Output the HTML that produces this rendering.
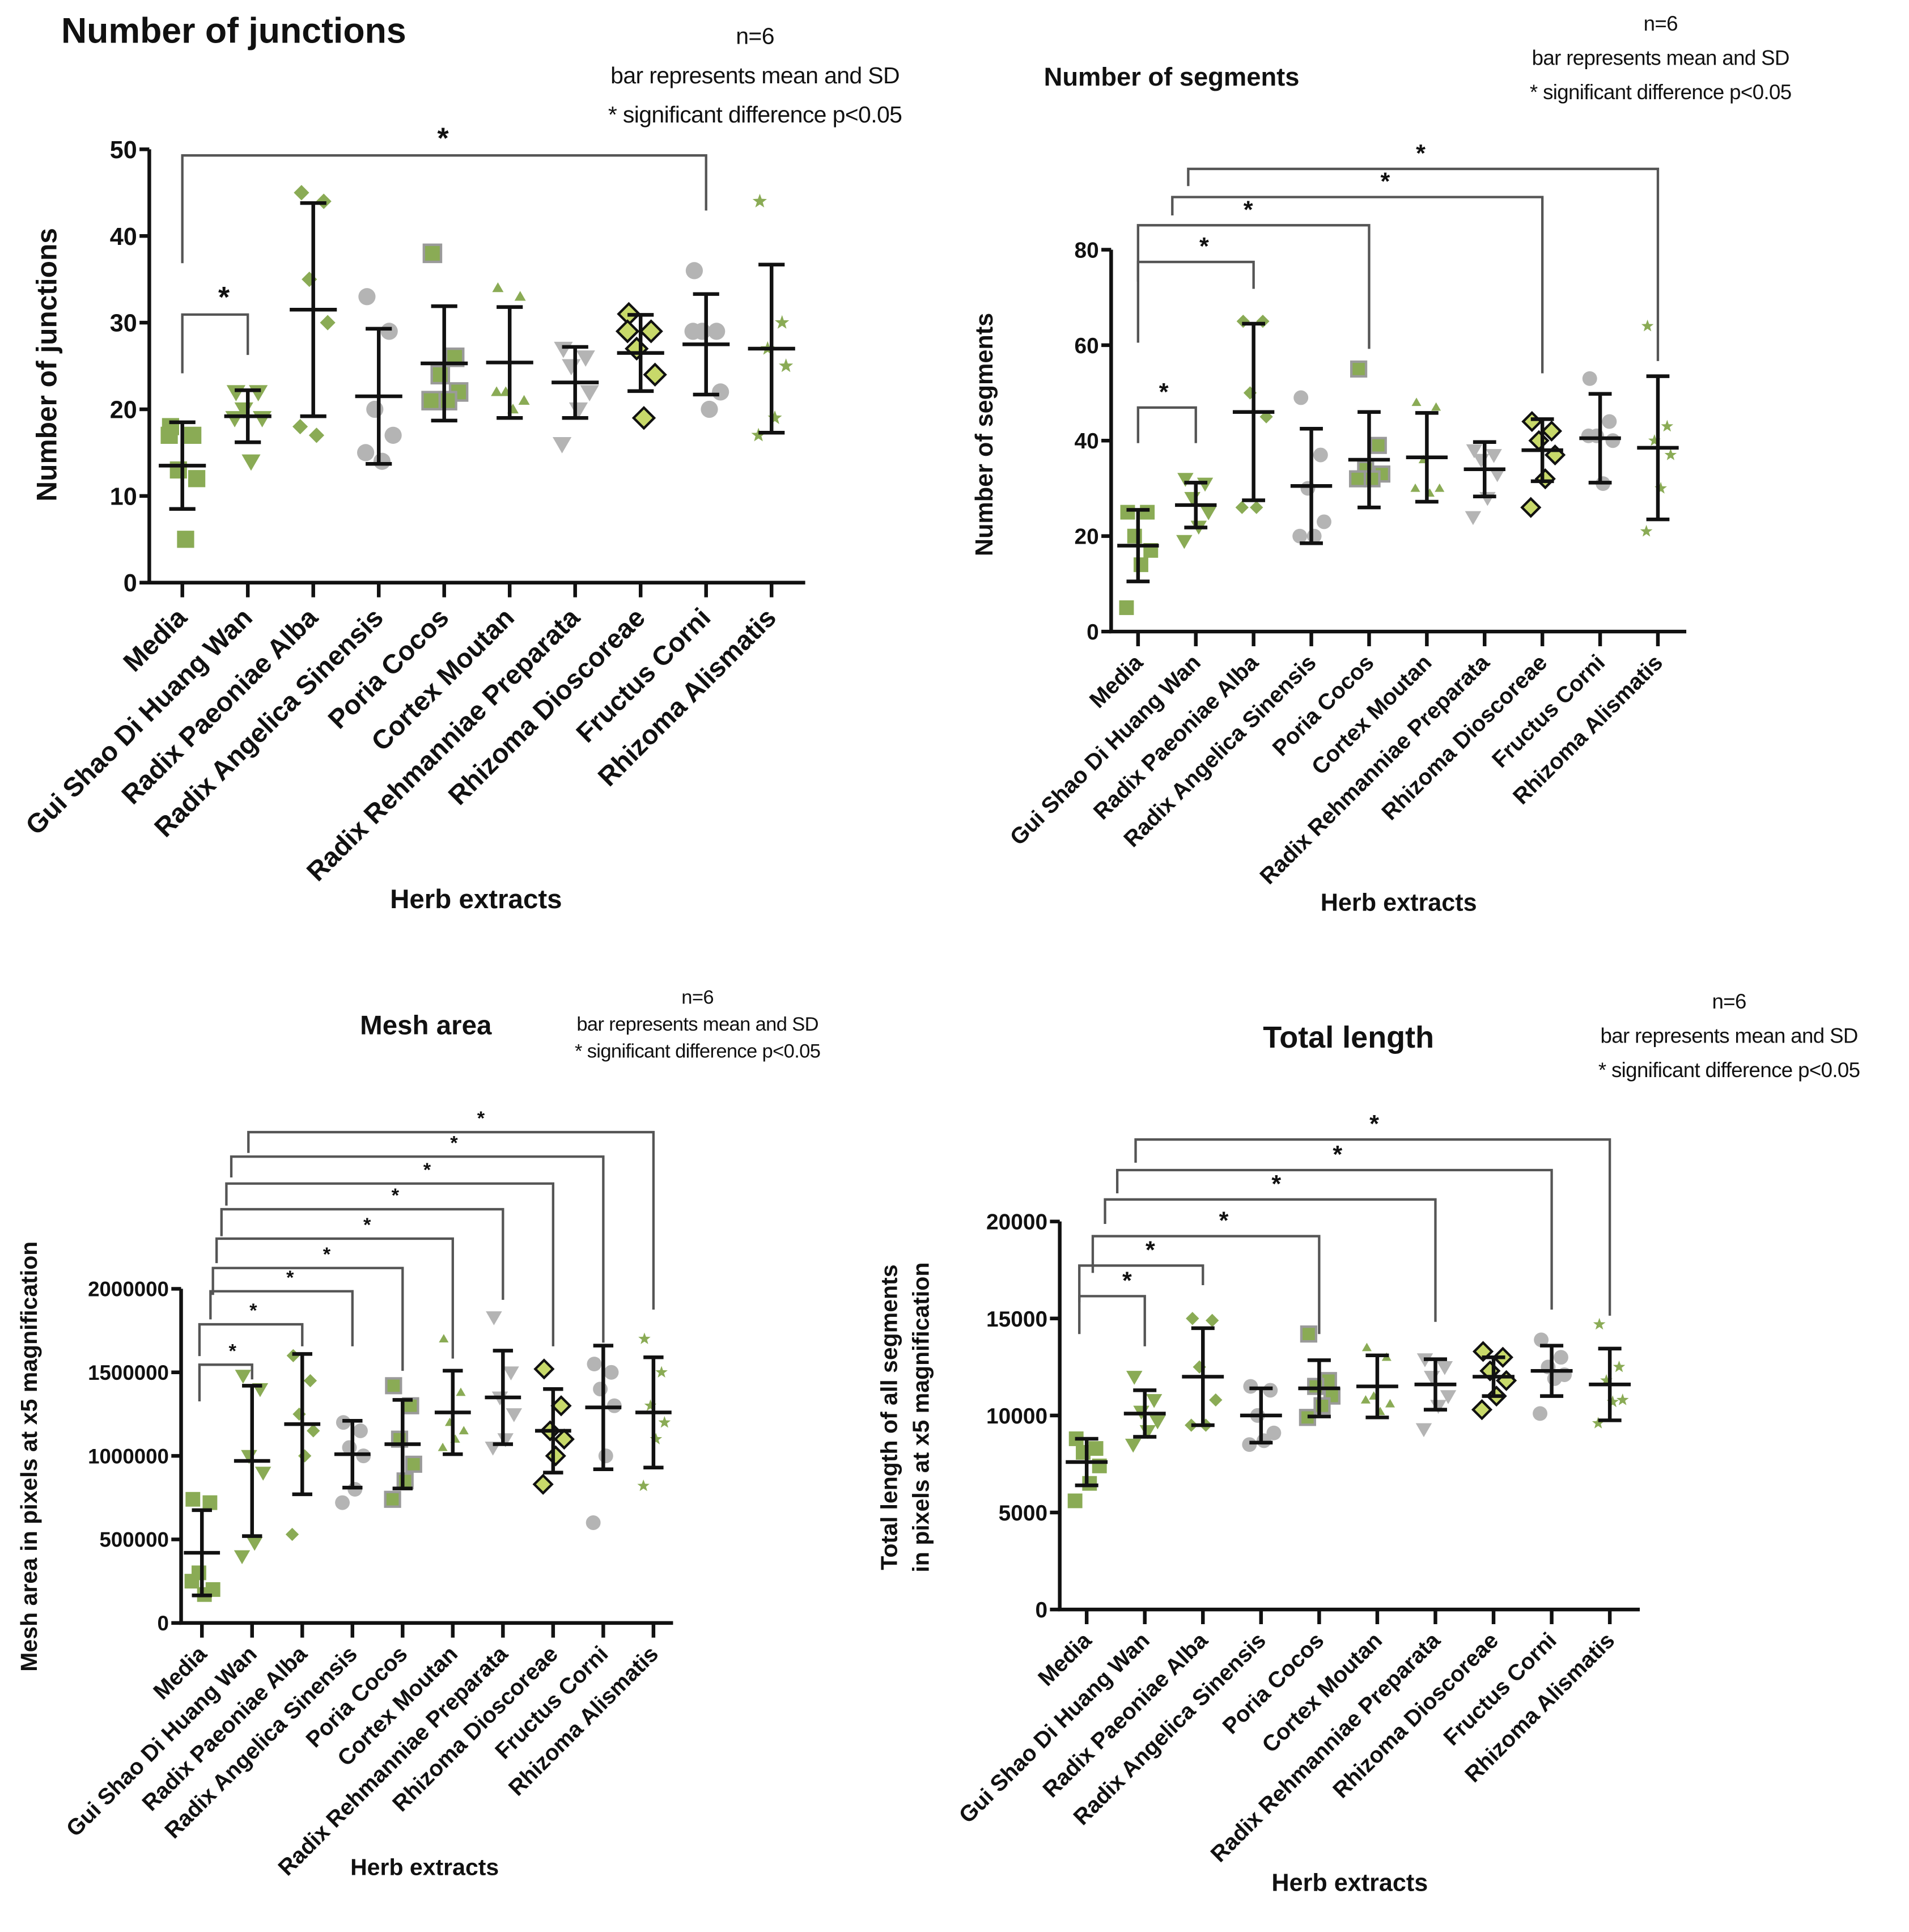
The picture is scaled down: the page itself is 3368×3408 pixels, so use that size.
<!DOCTYPE html>
<html><head><meta charset="utf-8">
<style>
html,body{margin:0;padding:0;background:#fff;}
svg{display:block;}
text{font-family:"Liberation Sans","DejaVu Sans",sans-serif;fill:#111;}
</style></head>
<body>
<svg id="fig" xmlns="http://www.w3.org/2000/svg" width="3368" height="3408" viewBox="0 0 1560 1578.5">
<rect x="0" y="0" width="1560" height="1578.5" fill="#fff"/>
</svg>
<script>
const categories=["Media","Gui Shao Di Huang Wan","Radix Paeoniae Alba","Radix Angelica Sinensis","Poria Cocos","Cortex Moutan","Radix Rehmanniae Preparata","Rhizoma Dioscoreae","Fructus Corni","Rhizoma Alismatis"];

// Panel 1: Number of junctions
const junctionsPoints=[[18,17,13,12,5,17],[22,22,20,19,14,19],[45,44,35,30,17,18],[33,29,20,17,14,15],[38,26,24,22,21,21],[34,33,22,21,20,22],[27,26,25,22,20,16],[31,29,27,24,19,29],[36,29,29,22,20,29],[44,30,27,25,19,17]];
const junctionsMean=[13.5,19.2,31.5,21.5,25.3,25.4,23.1,26.5,27.5,27];
const junctionsSD=[5,3,12.3,7.8,6.6,6.4,4.1,4.4,5.8,9.7];
const junctionsTicks=[0,10,20,30,40,50];

// Panel 2: Number of segments
const segmentsPoints=[[25,25,20,17,14,5],[32,31,28,25,22,19],[65,65,50,45,26,26],[49,37,30,23,20,20],[55,39,34,33,32,32],[48,47,36,30,29,30],[38,37,36,33,28,24],[44,42,40,37,32,26],[53,44,41,40,31,41],[64,43,40,37,30,21]];
const segmentsMean=[18,26.5,46,30.5,36,36.5,34,38,40.5,38.5];
const segmentsSD=[7.5,4.7,18.5,12,10,9.3,5.7,6.5,9.3,15];
const segmentsTicks=[0,20,40,60,80];

// Panel 3: Mesh area
const meshPoints=[[740000,720000,300000,200000,170000,250000],[1480000,1400000,1000000,900000,480000,400000],[1600000,1450000,1250000,1150000,1000000,530000],[1200000,1150000,1050000,1000000,800000,720000],[1420000,1300000,1100000,950000,850000,740000],[1700000,1380000,1200000,1150000,1100000,1050000],[1830000,1500000,1350000,1250000,1100000,1050000],[1520000,1300000,1150000,1100000,1000000,830000],[1550000,1500000,1400000,1300000,1000000,600000],[1700000,1500000,1300000,1200000,1100000,820000]];
const meshMean=[420000,970000,1190000,1010000,1070000,1260000,1350000,1150000,1290000,1260000];
const meshSD=[255000,450000,420000,200000,265000,250000,280000,250000,370000,330000];
const meshTicks=[0,500000,1000000,1500000,2000000];

// Panel 4: Total length
const lengthPoints=[[8800,8300,8100,7400,6500,5600],[12000,10800,10200,9700,9200,8500],[15000,14900,12500,10800,9500,9500],[11500,11300,10000,9100,8700,8500],[14200,11800,11500,11000,10500,9900],[13500,13000,11000,10600,10200,10800],[12900,12500,12000,11000,10500,9300],[13300,13000,12300,11800,11000,10300],[13900,13000,12500,12100,11900,10100],[14700,12500,11800,10800,10700,9600]];
const lengthMean=[7600,10100,12000,10000,11400,11500,11600,12000,12300,11600];
const lengthSD=[1200,1200,2500,1400,1450,1600,1300,1000,1300,1850];
const lengthTicks=[0,5000,10000,15000,20000];

const NS="http://www.w3.org/2000/svg";
const svg=document.getElementById('fig');
const G="#8aab55", GR="#b4b4b4", YG="#c8d96a";
const markerStyle=[
 {shape:"square",fill:G,stroke:"none"},
 {shape:"tridown",fill:G,stroke:"none"},
 {shape:"diamond",fill:G,stroke:"none",s:0.75},
 {shape:"circle",fill:GR,stroke:"none"},
 {shape:"square",fill:G,stroke:"#9a9a9a"},
 {shape:"triup",fill:G,stroke:"none",s:0.6},
 {shape:"tridown",fill:GR,stroke:"none"},
 {shape:"diamond",fill:YG,stroke:"#111"},
 {shape:"circle",fill:GR,stroke:"none"},
 {shape:"star",fill:G,stroke:"none",s:0.8}
];
const jit=[-0.18,0.16,-0.06,0.22,0.05,-0.2];

function el(tag,attrs,parent){const e=document.createElementNS(NS,tag);for(const k in attrs)e.setAttribute(k,attrs[k]);(parent||svg).appendChild(e);return e;}

function marker(g,cx,cy,ms,r){
  const s=r*(ms.s||1);let e;
  if(ms.shape==="square")e=el('rect',{x:cx-s,y:cy-s,width:2*s,height:2*s},g);
  else if(ms.shape==="circle")e=el('circle',{cx:cx,cy:cy,r:s},g);
  else if(ms.shape==="diamond")e=el('polygon',{points:`${cx},${cy-s*1.2} ${cx+s*1.2},${cy} ${cx},${cy+s*1.2} ${cx-s*1.2},${cy}`},g);
  else if(ms.shape==="tridown")e=el('polygon',{points:`${cx-s*1.1},${cy-s*0.8} ${cx+s*1.1},${cy-s*0.8} ${cx},${cy+s*1.1}`},g);
  else if(ms.shape==="triup")e=el('polygon',{points:`${cx-s*1.1},${cy+s*0.8} ${cx+s*1.1},${cy+s*0.8} ${cx},${cy-s*1.1}`},g);
  else {let p=[];for(let k=0;k<10;k++){const a=-Math.PI/2+k*Math.PI/5;const rr=k%2?s*0.45:s*1.1;p.push((cx+rr*Math.cos(a)).toFixed(1)+","+(cy+rr*Math.sin(a)).toFixed(1));}e=el('polygon',{points:p.join(" ")},g);}
  e.setAttribute('fill',ms.fill);
  if(ms.stroke!=="none"){e.setAttribute('stroke',ms.stroke);e.setAttribute('stroke-width',2);}
  return e;
}

function panel(P){
  const g=el('g',{});
  
  
  const ymax=P.ticks[P.ticks.length-1];
  const Y=v=>P.y0-(v/ymax)*(P.y0-P.y1);
  const X=i=>P.x0+i*P.dx;
  const t=el('text',{x:P.tx,y:P.ty,'font-size':P.tfs,'font-weight':'bold','text-anchor':P.tanchor||'middle'},g);
  t.textContent=P.title;
  
  
  const notes=["n=6","bar represents mean and SD","* significant difference p<0.05"];
  notes.forEach((n,i)=>{const e=el('text',{x:P.nx,y:P.ny+i*P.ndy,'font-size':P.nfs,'text-anchor':'middle',fill:'#333','letter-spacing':'-0.3'},g);e.textContent=n;
    
    });
  const ax=el('path',{d:`M${P.ax},${P.y1} V${P.y0} H${P.xend}`,stroke:'#111','stroke-width':3,fill:'none'},g);
  
  
  P.ticks.forEach(v=>{
    el('line',{x1:P.ax-8,x2:P.ax,y1:Y(v),y2:Y(v),stroke:'#111','stroke-width':3},g);
    const e=el('text',{x:P.ax-10,y:Y(v)+P.lfs*0.36,'font-size':P.lfs,'font-weight':'bold','text-anchor':'end'},g);
    e.textContent=v;
    
    
  });
  categories.forEach((c,i)=>{
    el('line',{x1:X(i),x2:X(i),y1:P.y0,y2:P.y0+12,stroke:'#111','stroke-width':3},g);
    const e=el('text',{x:X(i)+5,y:P.y0+P.cfs+8,'font-size':P.cfs,'font-weight':'bold','text-anchor':'end',transform:`rotate(-45 ${X(i)+5} ${P.y0+P.cfs+8})`},g);
    e.textContent=c;
    
    
  });
  P.ytitle.forEach((line,k)=>{
    const yx=P.ytx+k*P.ytdx;
    const e=el('text',{x:yx,y:P.yty,'font-size':P.ytfs,'font-weight':'bold','text-anchor':'middle',transform:`rotate(-90 ${yx} ${P.yty})`},g);
    e.textContent=line;
    
    
  });
  const xt=el('text',{x:P.xtx,y:P.xty,'font-size':P.xtfs,'font-weight':'bold','text-anchor':'middle'},g);
  xt.textContent="Herb extracts";
  
  
  P.points.forEach((arr,i)=>{
    const gg=el('g',{},g);
    
    
    arr.forEach((v,k)=>{marker(gg,X(i)+jit[k]*P.dx,Y(v),markerStyle[i],P.mr);});
  });
  P.mean.forEach((m,i)=>{
    const x=X(i),hw=P.dx*0.36,cw=P.dx*0.2;
    const d=`M${x-hw},${Y(m)} H${x+hw} M${x},${Y(m-P.sd[i])} V${Y(m+P.sd[i])} M${x-cw},${Y(m-P.sd[i])} H${x+cw} M${x-cw},${Y(m+P.sd[i])} H${x+cw}`;
    const e=el('path',{d:d,stroke:'#111','stroke-width':3,fill:'none'},g);
    
    
  });
  P.brackets.forEach(b=>{
    const rx=X(b.to);
    const e=el('path',{d:`M${b.lx},${b.ly} V${b.y} H${rx} V${b.ry}`,stroke:'#555','stroke-width':2,fill:'none'},g);
    
    
    const s=el('text',{x:b.sx,y:b.y-6,'font-size':P.sfs,'font-weight':'bold','text-anchor':'middle'},g);
    s.textContent="*";
    
    
  });
}

panel({name:'junctions-chart',title:'Number of junctions',tx:50,ty:35,tfs:29,tanchor:'start',nx:617,ny:36,ndy:32,nfs:19,
 ax:122,y0:476,y1:122,xend:658,x0:149,dx:53.5,ticks:junctionsTicks,lfs:20,cfs:22,
 ytitle:['Number of junctions'],ytx:46,yty:298,ytdx:0,ytfs:23,xtx:389,xty:742,xtfs:22,
 points:junctionsPoints,mean:junctionsMean,sd:junctionsSD,mr:7,sfs:24,
 brackets:[{lx:149,ly:215,y:127,to:8,ry:172,sx:362},{lx:149,ly:305,y:257,to:1,ry:290,sx:183}]});

panel({name:'segments-chart',title:'Number of segments',tx:853,ty:70,tfs:21,tanchor:'start',nx:1357,ny:25,ndy:28,nfs:17,
 ax:908,y0:516,y1:204,xend:1378,x0:930,dx:47.2,ticks:segmentsTicks,lfs:18,cfs:18.5,
 ytitle:['Number of segments'],ytx:811,yty:355,ytdx:0,ytfs:20,xtx:1143,xty:744,xtfs:20,
 points:segmentsPoints,mean:segmentsMean,sd:segmentsSD,mr:6,sfs:20,
 brackets:[{lx:971,ly:152,y:138,to:9,ry:295,sx:1161},{lx:958,ly:176,y:161,to:7,ry:305,sx:1132},{lx:930,ly:280,y:184,to:4,ry:285,sx:1020},{lx:930,ly:230,y:214,to:2,ry:236,sx:984},{lx:930,ly:362,y:333,to:1,ry:362,sx:951}]});

panel({name:'mesh-area-chart',title:'Mesh area',tx:348,ty:845,tfs:22,nx:570,ny:820,ndy:22,nfs:16,
 ax:148,y0:1326,y1:1053,xend:550,x0:165,dx:41,ticks:meshTicks,lfs:17,cfs:18.5,
 ytitle:['Mesh area in pixels at x5 magnification'],ytx:30,yty:1190,ytdx:0,ytfs:19,xtx:347,xty:1532,xtfs:19,
 points:meshPoints,mean:meshMean,sd:meshSD,mr:6,sfs:16,
 brackets:[{lx:163,ly:1145,y:1115,to:1,ry:1127,sx:190},{lx:163,ly:1108,y:1082,to:2,ry:1100,sx:207},{lx:172,ly:1078,y:1055,to:3,ry:1100,sx:237},{lx:174,ly:1058,y:1036,to:4,ry:1120,sx:267},{lx:177,ly:1032,y:1012,to:5,ry:1110,sx:300},{lx:181,ly:1010,y:988,to:6,ry:1062,sx:323},{lx:185,ly:985,y:967,to:7,ry:1100,sx:349},{lx:189,ly:962,y:945,to:8,ry:1097,sx:371},{lx:203,ly:942,y:925,to:9,ry:1070,sx:393}]});

panel({name:'total-length-chart',title:'Total length',tx:1102,ty:856,tfs:25,nx:1413,ny:824,ndy:28,nfs:17,
 ax:866,y0:1315,y1:998,xend:1340,x0:888,dx:47.5,ticks:lengthTicks,lfs:18,cfs:18.5,
 ytitle:['Total length of all segments','in pixels at x5 magnification'],ytx:733,yty:1158,ytdx:26,ytfs:19,xtx:1103,xty:1545,xtfs:20,
 points:lengthPoints,mean:lengthMean,sd:lengthSD,mr:6,sfs:20,
 brackets:[{lx:882,ly:1090,y:1059,to:1,ry:1100,sx:921},{lx:882,ly:1064,y:1034,to:2,ry:1050,sx:940},{lx:893,ly:1040,y:1010,to:4,ry:1090,sx:1000},{lx:903,ly:1000,y:980,to:6,ry:1080,sx:1043},{lx:913,ly:975,y:956,to:8,ry:1070,sx:1093},{lx:928,ly:950,y:931,to:9,ry:1075,sx:1123}]});
</script>
</body></html>
